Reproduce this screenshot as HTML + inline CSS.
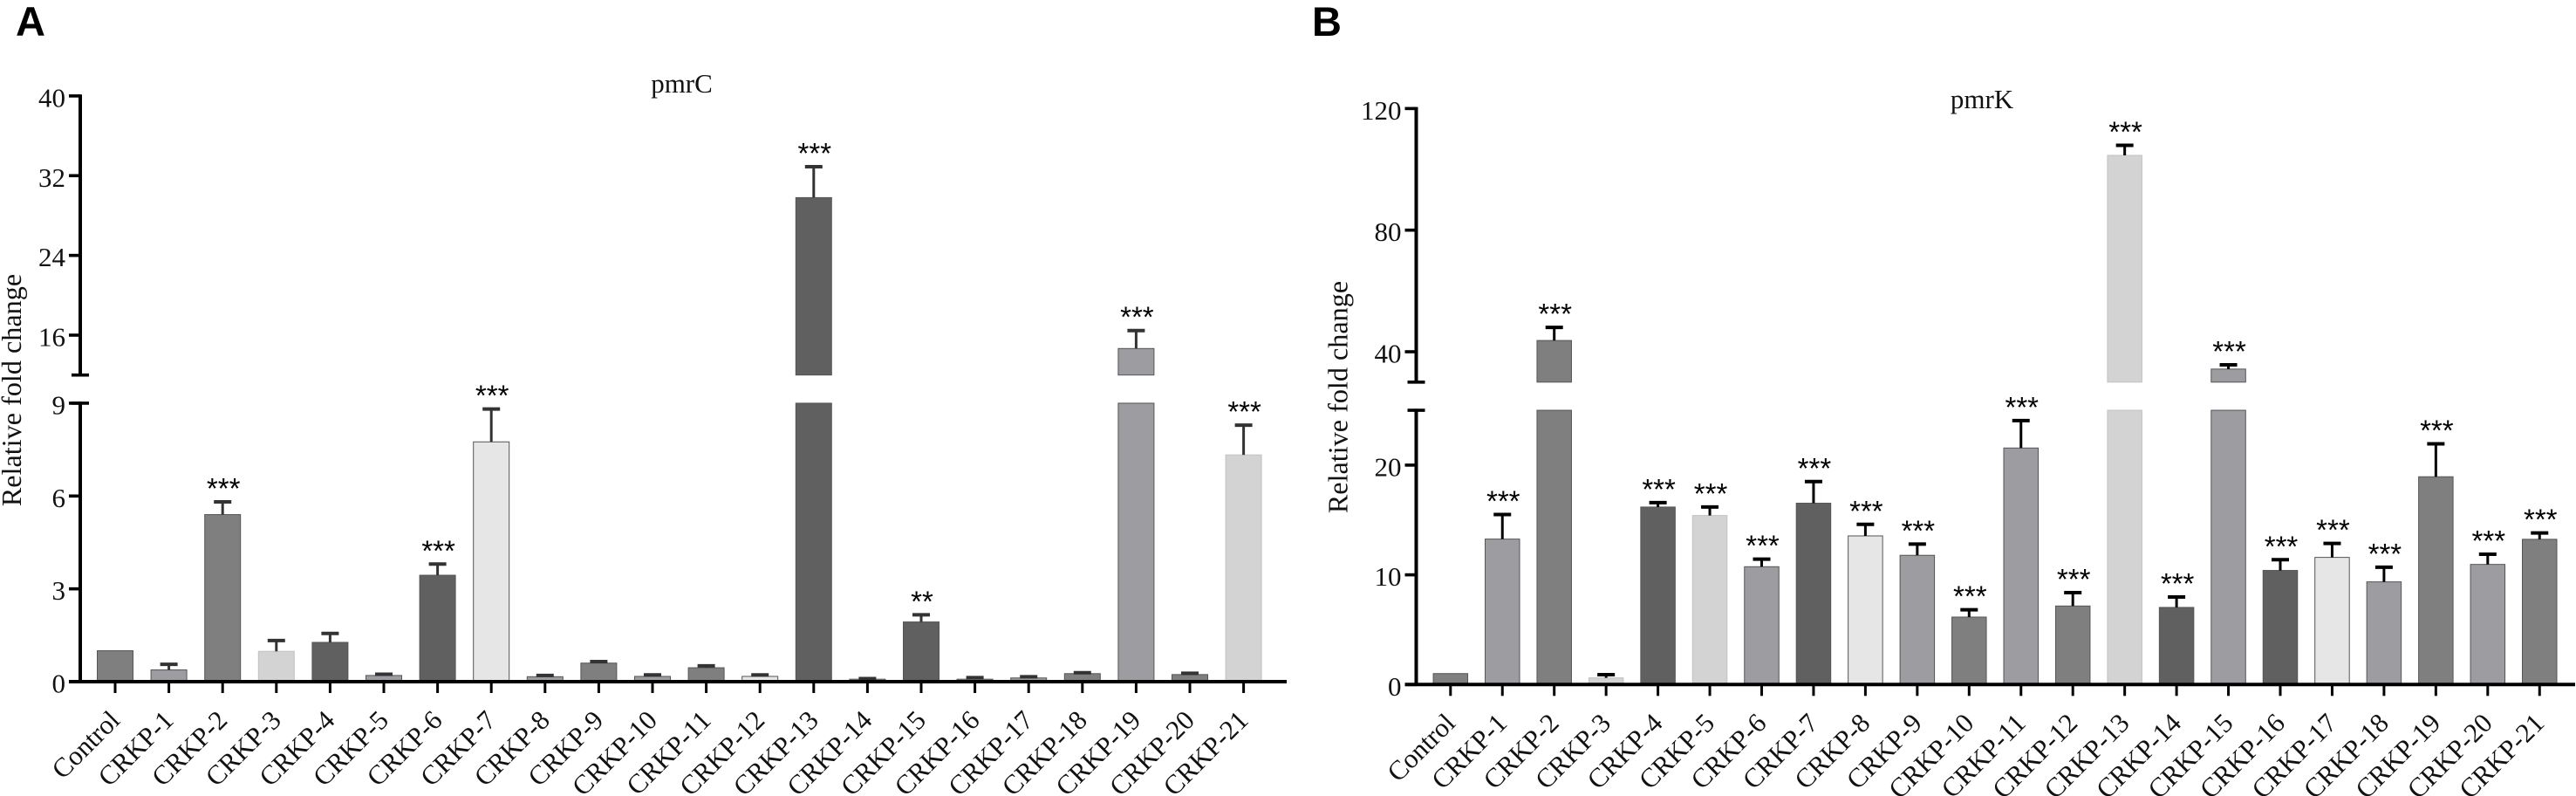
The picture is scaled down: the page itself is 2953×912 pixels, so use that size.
<!DOCTYPE html>
<html>
<head>
<meta charset="utf-8">
<title>pmrC and pmrK relative fold change</title>
<style>
html,body{margin:0;padding:0;background:#fff;}
svg{display:block;}
text{font-family:"Liberation Serif",serif;fill:#111;}
</style>
</head>
<body>
<svg id="chart" xmlns="http://www.w3.org/2000/svg" width="2953" height="912" viewBox="0 0 2953 912"></svg>
<script>
const categories = ["Control","CRKP-1","CRKP-2","CRKP-3","CRKP-4","CRKP-5","CRKP-6","CRKP-7","CRKP-8","CRKP-9","CRKP-10","CRKP-11","CRKP-12","CRKP-13","CRKP-14","CRKP-15","CRKP-16","CRKP-17","CRKP-18","CRKP-19","CRKP-20","CRKP-21"];

const pmrCMeans = [1.0,0.38,5.4,0.98,1.27,0.2,3.44,7.75,0.16,0.6,0.17,0.45,0.17,29.8,0.08,1.93,0.08,0.12,0.26,14.66,0.23,7.33];
const pmrCErrorTops = [1.0,0.56,5.81,1.33,1.56,0.24,3.8,8.81,0.2,0.65,0.22,0.51,0.22,32.9,0.1,2.16,0.13,0.16,0.29,16.46,0.27,8.29];
const pmrCSignificance = ["","","***","","","","***","***","","","","","","***","","**","","","","***","","***"];
const pmrCLowerTicks = [0,3,6,9];
const pmrCUpperTicks = [16,24,32,40];

const pmrKMeans = [1.0,13.26,43.7,0.61,16.18,15.41,10.74,16.53,13.55,11.78,6.15,21.56,7.16,104.6,7.03,34.3,10.4,11.59,9.36,18.94,10.95,13.24];
const pmrKErrorTops = [1.0,15.5,48,0.9,16.58,16.18,11.43,18.5,14.6,12.8,6.82,24.06,8.38,107.9,7.98,35.7,11.38,12.86,10.69,21.94,11.88,13.82];
const pmrKSignificance = ["","***","***","","***","***","***","***","***","***","***","***","***","***","***","***","***","***","***","***","***","***"];
const pmrKLowerTicks = [0,10,20];
const pmrKUpperTicks = [40,80,120];

const svg = document.getElementById('chart');
const NS = 'http://www.w3.org/2000/svg';

function make(tag, attrs, parent, txt) {
  const el = document.createElementNS(NS, tag);
  for (const k in attrs) el.setAttribute(k, attrs[k]);
  if (txt !== undefined) el.textContent = txt;
  parent.appendChild(el);
  return el;
}
function kebab(s) { return s.toLowerCase(); }

function drawPanel(p) {
  const g = make('g', {}, svg);
  
  

  const xAt = i => p.x0 + i * p.step;
  const yLow = v => p.yZero - (v - 0) * p.lowScale;
  const yUp = v => p.upRefY - (v - p.upRefV) * p.upScale;
  const yAny = v => v <= p.lowMax ? yLow(v) : yUp(Math.max(v, p.upMin));

  // panel letter
  const letter = make('text', {x:p.letterX, y:41, 'font-size':47, 'font-weight':700, style:'font-family:"Liberation Sans",sans-serif;fill:#000'}, g, p.letter);
  
  

  // title
  const title = make('text', {x:p.titleX, y:p.titleY, 'font-size':31, 'text-anchor':'middle'}, g, p.gene);
  
  

  // y title
  const yTitle = make('text', {transform:'translate(' + p.yTitleX + ' ' + p.yTitleY + ') rotate(-90)', 'font-size':32.2, 'text-anchor':'middle'}, g, 'Relative fold change');
  
  

  // bars
  categories.forEach((c, i) => {
    const mean = p.means[i], top = p.errs[i];
    const cx = xAt(i), bw = p.barW;
    const fill = p.colors[i];
    const stroke = fill === '#d3d3d3' ? '#c2c2c2' : '#555';
    if (mean > p.lowMax) {
      const lo = make('rect', {x:cx-bw/2, y:yLow(p.lowMax), width:bw, height:yLow(0)-yLow(p.lowMax), fill:fill, stroke:stroke, 'stroke-width':1}, g);
      
      
      const up = make('rect', {x:cx-bw/2, y:yUp(mean), width:bw, height:yUp(p.upMin)-yUp(mean), fill:fill, stroke:stroke, 'stroke-width':1}, g);
      
      
    } else {
      const b = make('rect', {x:cx-bw/2, y:yLow(mean), width:bw, height:yLow(0)-yLow(mean), fill:fill, stroke:stroke, 'stroke-width':1}, g);
      
      
    }
    // error bar
    if (top > mean) {
      const yM = yAny(mean), yT = yAny(top);
      const ec = p.errColor;
      const stem = make('line', {x1:cx, x2:cx, y1:yM, y2:yT, stroke:ec, 'stroke-width':3}, g);
      
      
      const cap = make('line', {x1:cx-10, x2:cx+10, y1:yT, y2:yT, stroke:ec, 'stroke-width':4}, g);
      
      
    }
    // significance
    if (p.sig[i]) {
      const star = make('text', {x:cx+1, y:yAny(top)-4, 'font-size':33, 'text-anchor':'middle', style:'font-family:"Liberation Sans",sans-serif;fill:#000'}, g, p.sig[i]);
      
      
    }
    // x tick + label
    const tick = make('line', {x1:cx, x2:cx, y1:p.yZero, y2:p.yZero+13, stroke:'#000', 'stroke-width':3}, g);
    
    
    const lx = cx + 7, ly = p.yZero + 46;
    const lab = make('text', {transform:'translate(' + lx + ' ' + ly + ') rotate(-45)', 'font-size':31, 'text-anchor':'end'}, g, c);
    
    
  });

  // axes
  const lowAxis = make('line', {x1:p.axisX, x2:p.axisX, y1:yLow(0), y2:yLow(p.lowMax)-1.7, stroke:'#000', 'stroke-width':4}, g);
  
  
  const upAxis = make('line', {x1:p.axisX, x2:p.axisX, y1:yUp(p.upMin)+1.7, y2:yUp(p.upMax)-1.7, stroke:'#000', 'stroke-width':4}, g);
  
  
  const xAxis = make('line', {x1:p.axisX-13, x2:p.axisEnd, y1:p.yZero, y2:p.yZero, stroke:'#000', 'stroke-width':4}, g);
  
  

  const capU = make('line', {x1:p.axisX-10, x2:p.axisX+10, y1:yUp(p.upMin), y2:yUp(p.upMin), stroke:'#000', 'stroke-width':3.6}, g);
  
  
  const capL = make('line', {x1:p.axisX-10, x2:p.axisX+10, y1:yLow(p.lowMax), y2:yLow(p.lowMax), stroke:'#000', 'stroke-width':3.6}, g);
  
  

  const tickLab = (v, y) => {
    const t = make('line', {x1:p.axisX-13, x2:p.axisX, y1:y, y2:y, stroke:'#000', 'stroke-width':3.6}, g);
    
    
    const l = make('text', {x:p.axisX-17, y:y+12.5, 'font-size':31, 'text-anchor':'end'}, g, String(v));
    
    
  };
  p.lowTicks.forEach(v => tickLab(v, yLow(v)));
  p.upTicks.forEach(v => tickLab(v, yUp(v)));
}

const D='#606060', M='#7f7f7f', N='#9d9da1', L='#d3d3d3', X='#e6e6e6';

drawPanel({
  gene:'pmrC', letter:'A', letterX:18, titleX:781.5, titleY:106,
  yTitleX:24, yTitleY:447,
  means:pmrCMeans, errs:pmrCErrorTops, sig:pmrCSignificance,
  lowTicks:pmrCLowerTicks, upTicks:pmrCUpperTicks,
  colors:[M,N,M,L,D,N,D,X,N,M,N,M,X,D,N,D,N,N,M,N,M,L],
  x0:132, step:61.6, barW:41, axisX:92, axisEnd:1475, yZero:781,
  lowMax:9, lowScale:35.45, upMin:12, upMax:40, upRefV:16, upRefY:384, upScale:11.42,
  errColor:'#333'
});

drawPanel({
  gene:'pmrK', letter:'B', letterX:1504, titleX:2272, titleY:124,
  yTitleX:1544.6, yTitleY:455,
  means:pmrKMeans, errs:pmrKErrorTops, sig:pmrKSignificance,
  lowTicks:pmrKLowerTicks, upTicks:pmrKUpperTicks,
  colors:[M,N,M,L,D,L,N,D,X,N,M,N,M,L,D,N,D,X,N,M,N,M],
  x0:1662.8, step:59.45, barW:39.5, axisX:1623.5, axisEnd:2952, yZero:784.3,
  lowMax:25, lowScale:12.57, upMin:30, upMax:120, upRefV:40, upRefY:403, upScale:3.483,
  errColor:'#000'
});
</script>
</body>
</html>
